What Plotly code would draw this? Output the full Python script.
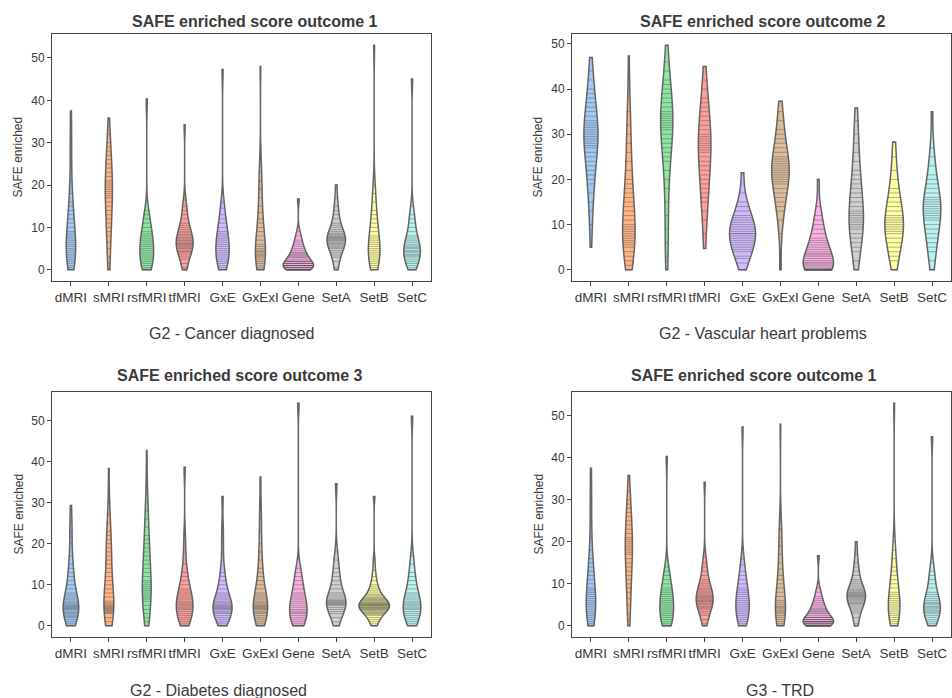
import numpy as np
import plotly.graph_objects as go

# ---------------- data ----------------
categories = ["dMRI", "sMRI", "rsfMRI", "tfMRI", "GxE", "GxExI", "Gene", "SetA", "SetB", "SetC"]

# outcome 1 (used for "G2 - Cancer diagnosed" and "G3 - TRD")
o1_dMRI = [0, 0.5, 1, 1.5, 2, 2.5, 3, 3.5, 4, 4.5, 5, 5.5, 6, 6.5, 7, 7.5, 8, 8.5, 9, 10, 11, 12, 13, 14, 15, 16, 18, 21, 25, 29, 33, 37.5]
o1_sMRI = [0, 1.5, 3, 5, 6.5, 8, 9, 10, 11, 12, 13, 14, 15, 16, 17, 17.5, 18, 18.5, 19, 19.5, 20, 20.5, 21, 22, 23, 24, 25, 26, 27, 28, 29, 30, 32, 35.8]
o1_rsfMRI = [0, 0, 0.5, 1, 1.5, 2, 2.5, 3, 3.5, 4, 4.5, 5, 5.5, 6, 6.5, 7, 7.5, 8, 8.5, 9, 10, 11, 12, 13, 14, 40.3]
o1_tfMRI = [0, 0.5, 1.5, 2.5, 3, 3.5, 4, 4.3, 4.6, 5, 5.2, 5.5, 5.8, 6, 6.2, 6.5, 6.8, 7, 7.3, 7.6, 8, 8.3, 8.7, 9, 9.5, 10, 10.5, 11, 12, 13, 14, 15, 16.5, 34.2]
o1_GxE = [0, 0.5, 1, 1.5, 2, 2.5, 3, 3.5, 4, 4.5, 5, 5.5, 6, 6.5, 7, 7.5, 8, 8.5, 9, 10, 11, 12, 13, 14.5, 16, 47.3]
o1_GxExI = [0, 0.5, 1, 1.5, 2, 2.5, 3, 3.3, 3.6, 4, 4.3, 4.6, 5, 5.5, 6, 7, 8, 9, 10, 11, 12, 13.5, 15, 17, 19, 21, 23, 25, 48]
o1_Gene = [0, 0, 0, 0, 0, 0, 0.5, 0.5, 0.5, 1, 1, 1, 1, 1, 1.5, 1.5, 1.5, 2, 2, 2, 2.5, 3, 3, 3.5, 3.5, 4, 4, 4.5, 5, 5.5, 6, 6.5, 7, 8, 9, 16.7]
o1_SetA = [0, 0.5, 2, 3, 3.5, 4, 4.5, 5, 5.3, 5.6, 5.9, 6.2, 6.5, 6.8, 7, 7.2, 7.4, 7.6, 7.8, 8, 8.3, 8.6, 9, 9.5, 10, 10.5, 11, 12, 13, 14, 15, 17, 20]
o1_SetB = [0, 0.5, 1, 1.5, 2, 2.5, 3, 3.5, 4, 4.5, 5, 5.5, 6, 6.5, 7, 7.5, 8, 9, 10, 11, 12, 13, 14, 16, 18, 20, 53]
o1_SetC = [0, 0.5, 1, 1.5, 2, 2.5, 3, 3.3, 3.6, 4, 4.3, 4.6, 5, 5.3, 5.6, 6, 6.5, 7, 7.5, 8, 9, 10, 11, 12, 13, 15, 45]

# outcome 2 ("G2 - Vascular heart problems")
o2_dMRI = [5, 10, 13, 15, 17, 19, 20, 21, 22, 23, 24, 25, 26, 27, 27.5, 28, 28.5, 29, 29.5, 30, 30.5, 31, 31.5, 32, 32.5, 33, 34, 35, 36, 37, 38, 39, 40, 42, 44, 47]
o2_sMRI = [0, 1, 2, 3, 4, 5, 5.5, 6, 6.5, 7, 7.5, 8, 8.5, 9, 9.5, 10, 11, 12, 13, 14, 15, 16, 17, 18, 19, 20, 22, 24, 26, 28, 30, 32, 35, 38, 47.3]
o2_rsfMRI = [0, 3, 6, 9, 12, 15, 18, 20, 22, 24, 25, 26, 27, 28, 29, 30, 31, 31.5, 32, 32.5, 33, 33.5, 34, 34.5, 35, 36, 37, 38, 39, 40, 41, 42, 44, 46, 49.7]
o2_tfMRI = [4.7, 8, 11, 13, 15, 16, 17, 18, 19, 20, 21, 22, 23, 24, 25, 26, 26.5, 27, 27.5, 28, 28.5, 29, 29.5, 30, 31, 32, 33, 34, 35, 36, 37, 38, 40, 42, 45]
o2_GxE = [0, 1.5, 2.5, 3, 4, 4.5, 5, 5.5, 6, 6.5, 7, 7.5, 8, 8, 8.5, 9, 9.5, 10, 10.5, 11, 11.5, 12, 13, 14, 15, 17, 21.5]
o2_GxExI = [0, 8, 11, 13, 14, 15, 16, 17, 18, 19, 19.5, 20, 20.5, 21, 21.5, 22, 22.5, 23, 23.5, 24, 24.5, 25, 26, 27, 28, 29, 30, 31, 33, 35, 37.3]
o2_Gene = [0, 0, 0, 0, 0, 0, 0, 0, 0.3, 0.6, 1, 1.3, 1.6, 2, 2.5, 3, 3.3, 3.6, 4, 4.5, 5, 5.5, 6, 6.5, 7, 8, 9, 10, 11, 12, 14, 20]
o2_SetA = [0, 2, 4, 5, 6, 7, 8, 9, 9.5, 10, 10.5, 11, 11.5, 12, 12.5, 13, 14, 15, 16, 17, 18, 19, 20, 21, 22, 24, 26, 28, 30, 33, 35.8]
o2_SetB = [0, 2, 3, 4, 5, 6, 7, 8, 8.5, 9, 9.5, 10, 10.5, 11, 11.5, 12, 13, 14, 15, 16, 17, 18, 20, 22, 25, 28.3]
o2_SetC = [0, 2, 4, 5, 6, 7, 8, 9, 10, 11, 11.5, 12, 12.5, 13, 13.5, 14, 14.5, 15, 15.5, 16, 17, 18, 19, 20, 21, 23, 25, 27, 35]

# outcome 3 ("G2 - Diabetes diagnosed")
o3_dMRI = [0, 0.5, 1, 1.5, 2, 2.3, 2.6, 3, 3.3, 3.6, 4, 4.2, 4.4, 4.6, 4.8, 5, 5.3, 5.6, 6, 6.5, 7, 7.5, 8, 9, 10, 11, 12, 13, 14, 15, 17, 20, 23, 25, 29.3]
o3_sMRI = [0, 1, 2, 3, 3.2, 3.4, 3.6, 3.8, 4, 4.2, 4.4, 4.6, 4.8, 5, 5.3, 5.6, 6, 7, 8, 9, 10, 11, 12, 13, 14, 15, 16, 17, 18, 19, 20, 21, 22, 23, 25, 27, 30, 38.3]
o3_rsfMRI = [0, 1, 2, 3, 4, 5, 6, 6.5, 7, 7.5, 8, 8.5, 9, 9.5, 10, 10.5, 11, 12, 13, 14, 15, 16, 17, 18, 19, 20, 21, 22, 24, 26, 28, 30, 32, 42.7]
o3_tfMRI = [0, 0.5, 1, 1.5, 2, 2.5, 3, 3.5, 4, 4.3, 4.6, 5, 5.3, 5.6, 6, 6.5, 7, 7.5, 8, 8.5, 9, 10, 11, 12, 13, 15, 18, 22, 38.6]
o3_GxE = [0, 0.5, 1, 1.5, 2, 2.5, 3, 3.3, 3.6, 4, 4.2, 4.4, 4.6, 4.8, 5, 5.3, 5.6, 6, 6.5, 7, 7.5, 8, 9, 10, 11, 12, 13, 16, 20, 24, 31.5]
o3_GxExI = [0, 0.5, 1, 1.5, 2, 2.5, 3, 3.3, 3.6, 4, 4.2, 4.4, 4.6, 4.8, 5, 5.3, 5.6, 6, 6.5, 7, 7.5, 8, 9, 10, 11, 12, 13, 14, 16, 18, 20, 23, 26, 29, 36.2]
o3_Gene = [0, 0, 0.5, 1, 1.5, 2, 2.5, 3, 3.3, 3.6, 4, 4.5, 5, 5.5, 6, 6.5, 7, 7.5, 8, 9, 10, 11, 12, 13, 14, 54.2]
o3_SetA = [0, 1, 2, 3, 3.5, 4, 4.5, 5, 5.2, 5.4, 5.6, 5.8, 6, 6.2, 6.5, 7, 7.5, 8, 9, 10, 11, 12, 13, 14, 16, 18, 34.6]
o3_SetB = [0, 0.5, 1, 1.5, 2, 2.5, 2.8, 3, 3.2, 3.4, 3.6, 3.8, 4, 4.1, 4.2, 4.4, 4.5, 4.6, 4.8, 5, 5, 5.1, 5.2, 5.4, 5.5, 5.6, 5.8, 6, 6.2, 6.4, 6.6, 6.8, 7, 7.3, 7.6, 8, 8.5, 9, 9.5, 10, 11, 12, 13.5, 16, 31.5]
o3_SetC = [0, 0.5, 1, 1.5, 2, 2.5, 3, 3.5, 4, 4.3, 4.6, 5, 5.3, 5.6, 6, 6.5, 7, 7.5, 8, 9, 10, 11, 12, 13, 15, 17, 51]

outcome1 = [o1_dMRI, o1_sMRI, o1_rsfMRI, o1_tfMRI, o1_GxE, o1_GxExI, o1_Gene, o1_SetA, o1_SetB, o1_SetC]
outcome2 = [o2_dMRI, o2_sMRI, o2_rsfMRI, o2_tfMRI, o2_GxE, o2_GxExI, o2_Gene, o2_SetA, o2_SetB, o2_SetC]
outcome3 = [o3_dMRI, o3_sMRI, o3_rsfMRI, o3_tfMRI, o3_GxE, o3_GxExI, o3_Gene, o3_SetA, o3_SetB, o3_SetC]

titles = ["SAFE enriched score outcome 1", "SAFE enriched score outcome 2",
          "SAFE enriched score outcome 3", "SAFE enriched score outcome 1"]
group_labels = ["G2 - Cancer diagnosed", "G2 - Vascular heart problems",
                "G2 - Diabetes diagnosed", "G3 - TRD"]
y_label = "SAFE enriched"
panel_data = [outcome1, outcome2, outcome3, outcome1]

# ---------------- styling ----------------
palette = ['#a1c9f4', '#ffb482', '#8de5a1', '#ff9f9b', '#d0bbff',
           '#debb9b', '#fab0e4', '#cfcfcf', '#fffea3', '#b9f2f0']
W, H = 952, 698
FONT = "Liberation Sans, Arial, Helvetica, sans-serif"
TXT = "#3a3a3a"
EDGE = "#666666"
boxes = [(52, 431, 34, 281), (572, 951, 34, 281),
         (52, 431, 392, 637), (572, 951, 392, 637)]
title_pos = [(255, 21), (763, 21), (240, 375), (754, 375)]
xlabel_pos = [(231, 333), (763, 333), (218, 690), (780, 690)]
ylabel_x = [18, 538, 18, 538]

GAP = 0.2
BDPOS = 0.5 * (1 - GAP)


def silverman_bw(v):
    q1, q3 = np.percentile(v, [25, 75])
    s = min(np.std(v, ddof=1), (q3 - q1) / 1.349)
    return 1.059 * s * len(v) ** (-0.2)


def kde(v, bw, t):
    z = (np.asarray(t)[:, None] - v[None, :]) / bw
    return np.exp(-0.5 * z * z).sum(axis=1) / (len(v) * bw * np.sqrt(2 * np.pi))


fig = go.Figure()
layout = dict(width=W, height=H, autosize=False, margin=dict(l=0, r=0, t=0, b=0),
              paper_bgcolor="white", plot_bgcolor="white", showlegend=False,
              violinmode="overlay", violingap=GAP, violingroupgap=0,
              font=dict(family=FONT, color=TXT))
annotations = []

for p, data in enumerate(panel_data):
    k = p + 1
    xa, ya = f"x{k}", f"y{k}"
    left, right, top, bottom = boxes[p]
    px_per_unit = (right - left) / len(categories)

    arrays = [np.asarray(d, dtype=float) for d in data]
    bws = [silverman_bw(a) for a in arrays]
    peaks = [kde(a, bw, np.linspace(a.min(), a.max(), 600)).max() for a, bw in zip(arrays, bws)]
    group_max = max(peaks)

    for c, (cat, a, bw) in enumerate(zip(categories, arrays, bws)):
        fig.add_trace(go.Violin(
            x=[cat] * len(a), y=a, xaxis=xa, yaxis=ya,
            name=cat, scalegroup=f"panel{k}", scalemode="width",
            bandwidth=bw, spanmode="hard", points=False,
            fillcolor=palette[c], line=dict(color=EDGE, width=1.5),
            box=dict(visible=False), meanline=dict(visible=False),
            hoverinfo="skip", opacity=1))
        # inner "stick" lines: one per observation, spanning the violin width
        dens = kde(a, bw, a)
        stick_len = 2 * BDPOS * px_per_unit * dens / group_max
        fig.add_trace(go.Scatter(
            x=[cat] * len(a), y=a, xaxis=xa, yaxis=ya, mode="markers",
            marker=dict(symbol="line-ew", size=stick_len / 1.4,
                        line=dict(color="rgba(80,80,80,0.62)", width=1)),
            hoverinfo="skip"))

    ymin = min(a.min() for a in arrays)
    ymax = max(a.max() for a in arrays)
    pad = 0.05 * (ymax - ymin)
    axis_common = dict(showline=True, linecolor="#444", linewidth=1, mirror=True,
                       showgrid=False, zeroline=False, ticks="outside", ticklen=4,
                       tickcolor="#444", tickwidth=1)
    layout[f"xaxis{k}"] = dict(domain=[left / W, right / W], anchor=ya, tickangle=0,
                               type="category", categoryorder="array", categoryarray=categories,
                               range=[-0.5, len(categories) - 0.5],
                               tickfont=dict(size=13.5, color=TXT, family=FONT), **axis_common)
    layout[f"yaxis{k}"] = dict(domain=[1 - bottom / H, 1 - top / H], anchor=xa,
                               range=[ymin - pad, ymax + pad], tick0=0, dtick=10,
                               tickfont=dict(size=12, color=TXT, family=FONT), **axis_common)

    tx, ty = title_pos[p]
    annotations.append(dict(text=f"<b>{titles[p]}</b>", x=tx / W, y=1 - ty / H, xref="paper", yref="paper",
                            showarrow=False, xanchor="center", yanchor="middle",
                            font=dict(size=16, color=TXT, family=FONT)))
    lx, ly = xlabel_pos[p]
    annotations.append(dict(text=group_labels[p], x=lx / W, y=1 - ly / H, xref="paper", yref="paper",
                            showarrow=False, xanchor="center", yanchor="middle",
                            font=dict(size=16, color=TXT, family=FONT)))
    annotations.append(dict(text=y_label, x=ylabel_x[p] / W, y=1 - (top + bottom) / 2 / H,
                            xref="paper", yref="paper", showarrow=False, textangle=-90,
                            xanchor="center", yanchor="middle",
                            font=dict(size=12, color=TXT, family=FONT)))

layout["annotations"] = annotations
fig.update_layout(**layout)
fig.write_html("out.html", config={"displayModeBar": False},
               post_script="document.body.style.margin='0px';")
